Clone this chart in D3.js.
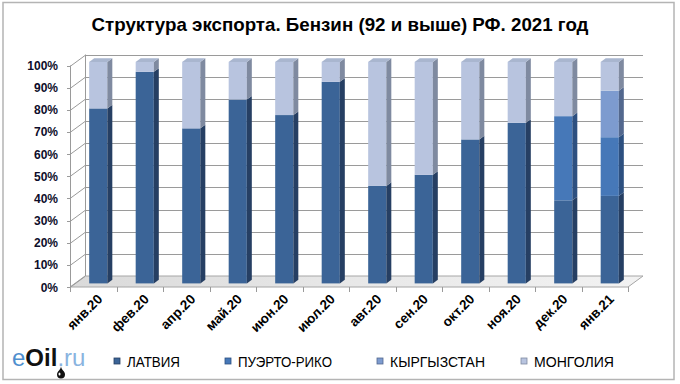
<!DOCTYPE html>
<html><head><meta charset="utf-8">
<script src="https://cdn.jsdelivr.net/npm/d3@7"></script>
<style>html,body{margin:0;padding:0;background:#fff;}svg{display:block;}</style>
</head><body>
<svg id="c" width="680" height="384"></svg>
<script>
const title = "Структура экспорта. Бензин (92 и выше) РФ. 2021 год";
const categories = ["янв.20","фев.20","апр.20","май.20","июн.20","июл.20","авг.20","сен.20","окт.20","ноя.20","дек.20","янв.21"];
const seriesNames = ["ЛАТВИЯ","ПУЭРТО-РИКО","КЫРГЫЗСТАН","МОНГОЛИЯ"];
const latvia   = [0.79,0.955,0.70,0.83,0.76,0.91,0.44,0.49,0.65,0.725,0.375,0.395];
const puerto   = [0,0,0,0,0,0,0,0,0,0,0.38,0.265];
const kyrgyz   = [0,0,0,0,0,0,0,0,0,0,0,0.21];
const mongolia = [0.21,0.045,0.30,0.17,0.24,0.09,0.56,0.51,0.35,0.275,0.245,0.13];
const yTicks = [0,0.1,0.2,0.3,0.4,0.5,0.6,0.7,0.8,0.9,1.0];

const colors = {
  front: ["#3b6497","#4678b8","#7d9bcf","#b8c4df"],
  side:  ["#263f63","#2d5080","#53688e","#7f8aa0"],
  top:   ["#5b7dae","#6a93c8","#97b0da","#a9b6cf"]
};

const svg = d3.select("#c");
const DX = 15, DY = 11;           // wall depth
const FX = 5, FY = 3.6;           // bar front offset
const SX = 5, SY = 3.6;           // bar depth

const x = d3.scaleBand().domain(categories).range([70, 628]).paddingInner(0).paddingOuter(0);
const y = d3.scaleLinear().domain([0,1]).range([287, 65.5]);

// outer border
svg.append("rect").attr("x",3).attr("y",2.5).attr("width",671).attr("height",377)
  .attr("fill","#fff").attr("stroke","#b4b4b4").attr("stroke-width",1.5);

// title
svg.append("text").attr("x",340).attr("y",31).attr("text-anchor","middle")
  .attr("font-family","'Liberation Sans Narrow','Arial Narrow','Liberation Sans',sans-serif")
  .attr("font-weight","bold").attr("font-size",19).attr("fill","#000")
  .attr("textLength",497).attr("lengthAdjust","spacingAndGlyphs").text(title);

const defs = svg.append("defs");
const fg = defs.append("linearGradient").attr("id","floor").attr("x1","0").attr("y1","0").attr("x2","1").attr("y2","0");
fg.append("stop").attr("offset","0").attr("stop-color","#dadada");
fg.append("stop").attr("offset","0.5").attr("stop-color","#e8e8e8");
fg.append("stop").attr("offset","1").attr("stop-color","#f2f2f2");

// floor
const x0 = x.range()[0], x1 = x.range()[1];
svg.append("path").attr("d",`M${x0},${y(0)}L${x1},${y(0)}L${x1+DX},${y(0)-DY}L${x0+DX},${y(0)-DY}Z`)
  .attr("fill","url(#floor)").attr("stroke","#a6a6a6").attr("stroke-width",1);

// gridlines: side wall diagonals + back wall horizontals
const g = svg.append("g").attr("stroke","#9a9a9a").attr("stroke-width",1).attr("fill","none");
yTicks.forEach(t => {
  const yy = Math.round(y(t)) + 0.5;
  g.append("line").attr("x1",x0).attr("y1",yy).attr("x2",x0+DX).attr("y2",yy-DY);
  if (t > 0) g.append("line").attr("x1",x0+DX).attr("y1",yy-DY).attr("x2",x1+DX).attr("y2",yy-DY);
  g.append("line").attr("x1",x0-3).attr("y1",yy).attr("x2",x0).attr("y2",yy);
});
g.append("line").attr("x1",x0+DX+0.5).attr("y1",y(0)-DY).attr("x2",x0+DX+0.5).attr("y2",y(1)-DY);
g.append("line").attr("x1",x0+0.5).attr("y1",y(0)).attr("x2",x0+0.5).attr("y2",y(1));
// x axis ticks
categories.concat([null]).forEach((c,i) => {
  const xx = Math.round(x0 + i*x.bandwidth()) + 0.5;
  g.append("line").attr("x1",xx).attr("y1",y(0)).attr("x2",xx).attr("y2",y(0)+5);
});

// y labels
svg.append("g").selectAll("text").data(yTicks).join("text")
  .attr("x",58).attr("y",d=>y(d)+4.5).attr("text-anchor","end")
  .attr("font-family","'Liberation Sans',Arial,sans-serif").attr("font-weight","bold")
  .attr("font-size",12).attr("fill","#0d0d2a").text(d=>Math.round(d*100)+"%");

// x labels
svg.append("g").selectAll("text").data(categories).join("text")
  .attr("transform",d=>`translate(${x(d)+x.bandwidth()/2+10},${300}) rotate(-45)`)
  .attr("text-anchor","end")
  .attr("font-family","'Liberation Sans',Arial,sans-serif").attr("font-weight","bold")
  .attr("font-size",13.5).attr("fill","#000").text(d=>d);

// bars
const rows = categories.map((c,i)=>({c, s0:latvia[i], s1:puerto[i], s2:kyrgyz[i], s3:mongolia[i]}));
const stack = d3.stack().keys(["s0","s1","s2","s3"])(rows);
const bw = x.bandwidth()*0.39;
const bars = svg.append("g");
categories.forEach((c,i) => {
  const bx = x(c) + x.bandwidth()/2 - bw/2 + FX;
  let topMost = -1;
  stack.forEach((layer,k)=>{ if (layer[i][1]-layer[i][0] > 0) topMost = k; });
  stack.forEach((layer,k) => {
    const v0 = layer[i][0], v1 = layer[i][1];
    if (v1 - v0 <= 0) return;
    const yb = y(v0) - FY, yt = y(v1) - FY;
    bars.append("rect").attr("x",bx).attr("y",yt).attr("width",bw).attr("height",yb-yt)
      .attr("fill",colors.front[k]);
    bars.append("path").attr("d",`M${bx+bw},${yt}L${bx+bw+SX},${yt-SY}L${bx+bw+SX},${yb-SY}L${bx+bw},${yb}Z`)
      .attr("fill",colors.side[k]);
    if (k === topMost) {
      bars.append("path").attr("d",`M${bx},${yt}L${bx+SX},${yt-SY}L${bx+bw+SX},${yt-SY}L${bx+bw},${yt}Z`)
        .attr("fill",colors.top[k]);
    }
  });
});

// legend
const legX = [117, 228, 380, 524];
const legW = [53, 94, 95, 80];
const leg = svg.append("g");
seriesNames.forEach((n,k) => {
  leg.append("rect").attr("x",legX[k]-3).attr("y",358).attr("width",6).attr("height",6)
    .attr("fill",colors.front[k]).attr("stroke",colors.side[k]).attr("stroke-width",0.8);
  leg.append("text").attr("x",legX[k]+10).attr("y",366.5)
    .attr("font-family","'Liberation Sans Narrow','Arial Narrow','Liberation Sans',sans-serif")
    .attr("font-size",15).attr("fill","#000")
    .attr("textLength",legW[k]).attr("lengthAdjust","spacingAndGlyphs").text(n);
});

// logo
const logo = svg.append("text").attr("x",12).attr("y",366)
  .attr("font-family","'Liberation Sans',Arial,sans-serif").attr("font-size",24);
logo.append("tspan").attr("fill","#4f8fce").text("e");
logo.append("tspan").attr("fill","#111").attr("font-weight","bold").text("Oil");
logo.append("tspan").attr("fill","#8ab4df").text(".ru");
svg.append("path").attr("d","M61,366 C61,370 57,371 57,374.5 A4,4 0 0 0 65,374.5 C65,371 61,370 61,366Z")
  .attr("fill","#111");
svg.append("ellipse").attr("cx",59.5).attr("cy",374).attr("rx",1).attr("ry",1.6).attr("fill","#fff");
</script>
</body></html>
